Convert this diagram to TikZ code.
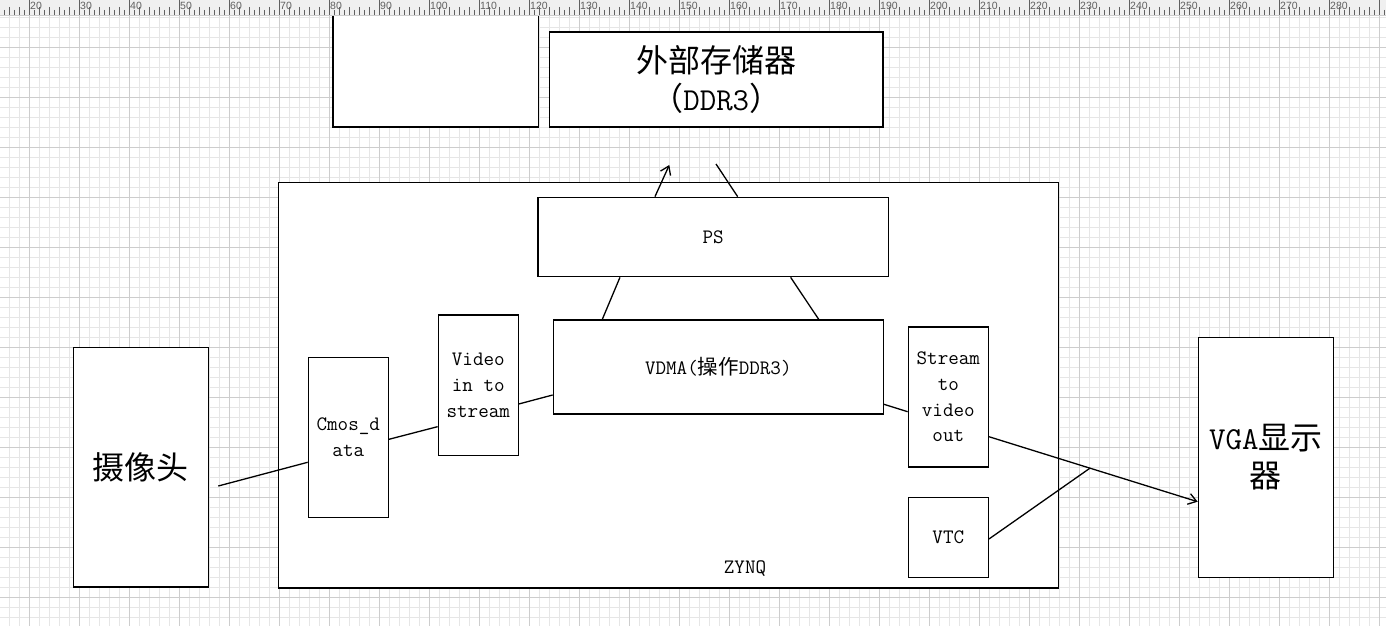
\documentclass[tikz,border=0pt]{standalone}
\usepackage{fontspec}
\newfontfamily\cjk{Noto Sans CJK SC}
\newfontfamily\rulerfont{Liberation Sans}
\usetikzlibrary{arrows.meta,calc}
\definecolor{gridminor}{HTML}{E6E6E6}
\definecolor{gridmajor}{HTML}{CDCDCD}
\definecolor{rulerbg}{HTML}{F0F0F0}
\definecolor{tickcol}{HTML}{606060}
\newcommand\smalltxt{\fontsize{20.5}{25.7}\selectfont\ttfamily}
\newcommand\bigtxt{\fontsize{32}{37.5}\selectfont\ttfamily}
\newcommand\rulertxt{\rulerfont\fontsize{10.5}{10.5}\selectfont}
\tikzset{
  x=1pt, y=-1pt,
  box/.style={draw=black, fill=white, line width=1.3pt, inner sep=0pt, align=center, font=\smalltxt},
  bigbox/.style={box, font=\bigtxt},
  conn/.style={draw=black, line width=1.3pt},
  arr/.style={-{Straight Barb[length=8pt,width=11pt]}},
  gminor/.style={draw=gridminor, line width=0.9pt},
  gmajor/.style={draw=gridmajor, line width=0.9pt},
  tickline/.style={draw=tickcol, line width=0.8pt},
  lbl/.style={inner sep=0pt, align=center, font=\smalltxt},
}
\begin{document}
\begin{tikzpicture}
\useasboundingbox (0,0) rectangle (1386,626);
\fill[white] (0,0) rectangle (1386,626);
% grid
\foreach \gx in {9,19,...,1379} \draw[gminor] (\gx,15) -- (\gx,626);
\foreach \gy in {17,27,...,617} \draw[gminor] (0,\gy) -- (1386,\gy);
\foreach \gx in {29,79,...,1379} \draw[gmajor] (\gx,15) -- (\gx,626);
\foreach \gy in {47,97,...,597} \draw[gmajor] (0,\gy) -- (1386,\gy);

% boxes
\node[box, minimum width=205.5pt, minimum height=122pt] (blank) at (435.75,66) {};
\node[bigbox, minimum width=333.5pt, minimum height=95pt] (ddr) at (716.25,79.5)
  {{\cjk 外部存储器}\\{\cjk （}DDR3{\cjk ）}};
\node[box, minimum width=780pt, minimum height=405.7pt] (zynq) at (668.3,385.15) {};
\node[lbl] (zynqlbl) at (745,569) {ZYNQ};
\node[box, minimum width=350.3pt, minimum height=79.4pt] (ps) at (713.15,237) {PS};
\node[box, minimum width=330pt, minimum height=94pt] (vdma) at (718.3,367) {VDMA({\cjk 操作}DDR3)};
\node[bigbox, minimum width=135pt, minimum height=239.7pt] (cam) at (140.8,467.15) {{\cjk 摄像头}};
\node[box, minimum width=80pt, minimum height=160pt] (cmos) at (348.3,437.3) {Cmos\_d\\ata};
\node[box, minimum width=80pt, minimum height=140.3pt] (vid) at (478.3,385.15) {Video\\in to\\stream};
\node[box, minimum width=80pt, minimum height=140pt] (stream) at (948.3,397) {Stream\\to\\video\\out};
\node[box, minimum width=80pt, minimum height=80pt] (vtc) at (948.3,537.3) {VTC};
\node[bigbox, minimum width=135pt, minimum height=240pt] (vga) at (1265.8,457.3) {VGA{\cjk 显示}\\{\cjk 器}};

% connectors
\coordinate (camout) at (218.3,486);
\draw[conn] (camout) -- ([yshift=-25pt]cmos.west);
\draw[conn] ([yshift=-2pt]cmos.east) -- ([yshift=-41.5pt]vid.west);
\draw[conn] ([yshift=-18.8pt]vid.east) -- ([yshift=-28pt]vdma.west);
\draw[conn] ([yshift=-37.3pt]vdma.east) -- ([yshift=-14.7pt]stream.west);
\coordinate (s1) at ([yshift=-39.7pt]stream.east);
\coordinate (v1) at ([yshift=-44.4pt]vga.west);
\draw[conn,arr] (s1) -- (v1);
\coordinate (vtcjoin) at ($(s1)!0.484!(v1)$);
\draw[conn] ([yshift=-1.7pt]vtc.east) -- (vtcjoin);
\coordinate (psup) at (669.3,165);
\coordinate (psdn) at (716,164);
\draw[conn,arr] ([xshift=-58.2pt]ps.north) -- (psup);
\draw[conn] ([xshift=24.5pt]ps.north) -- (psdn);
\draw[conn] ([xshift=-93.2pt]ps.south) -- ([xshift=-116pt]vdma.north);
\draw[conn] ([xshift=77.5pt]ps.south) -- ([xshift=100.4pt]vdma.north);

% ruler
\fill[rulerbg] (0,0) rectangle (1386,15);
\draw[draw=gridmajor, line width=0.9pt] (0,15) -- (1386,15);
\foreach \u in {15,...,291} \draw[tickline] ({5*\u-71},10) -- ({5*\u-71},15);
\foreach \u in {16,18,...,290} \draw[tickline] ({5*\u-71},7) -- ({5*\u-71},15);
\foreach \u in {20,30,...,280} {
  \draw[tickline] ({5*\u-71},0) -- ({5*\u-71},15);
  \node[anchor=north west, inner sep=0pt, font=\rulertxt, text=tickcol] at ({5*\u-70},2) {\u};
}
\draw[tickline] (1379,0) -- (1379,15);
\end{tikzpicture}
\end{document}
